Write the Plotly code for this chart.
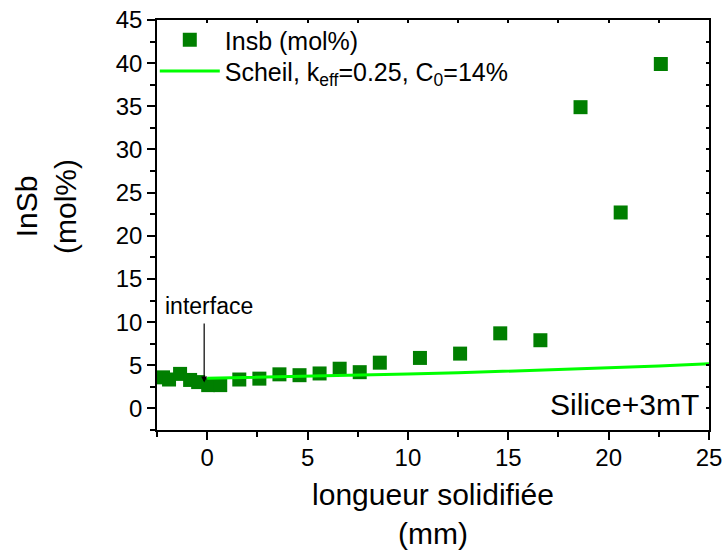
import plotly.graph_objects as go

# Data
pos_mm = [-2.2, -1.9, -1.35, -0.85, -0.45, 0.05, 0.65, 1.6, 2.6, 3.6, 4.6,
          5.6, 6.6, 7.6, 8.6, 10.6, 12.6, 14.6, 16.6, 18.6, 20.6, 22.6]
insb_mol = [3.6, 3.35, 4.0, 3.3, 3.05, 2.7, 2.7, 3.35, 3.45, 3.95, 3.85,
            4.05, 4.6, 4.2, 5.3, 5.85, 6.35, 8.7, 7.9, 34.9, 22.7, 39.9]

scheil_x = [0, 2.5, 5, 7.5, 10, 12.5, 15, 17.5, 20, 22.5, 25]
scheil_y = [3.5, 3.6, 3.72, 3.85, 3.98, 4.12, 4.3, 4.48, 4.7, 4.92, 5.18]

x_ticks = [0, 5, 10, 15, 20, 25]
y_ticks = [0, 5, 10, 15, 20, 25, 30, 35, 40, 45]

FONT = "Liberation Sans, Arial, sans-serif"

fig = go.Figure()
fig.add_trace(go.Scatter(
    x=pos_mm, y=insb_mol, mode="markers", name="Insb (mol%)",
    marker=dict(symbol="square", size=14, color="#007F00",
                line=dict(width=0)),
    legend="legend",
))
fig.add_trace(go.Scatter(
    x=scheil_x, y=scheil_y, mode="lines",
    name="Scheil, k<sub>eff</sub>=0.25, C<sub>0</sub>=14%",
    line=dict(color="#00FF00", width=3),
    legend="legend2",
))
# empty trace to anchor mirror axes
fig.add_trace(go.Scatter(x=[], y=[], xaxis="x2", yaxis="y2", showlegend=False,
                         hoverinfo="skip"))

axis_common = dict(
    showgrid=False, zeroline=False, showline=True, linecolor="black",
    linewidth=1.5, ticks="outside", tickcolor="black", tickwidth=1.5,
    ticklen=8, tickfont=dict(family=FONT, size=24, color="black"),
    automargin=False,
)
mirror_common = dict(
    showticklabels=False, ticks="inside", ticklen=3, tickwidth=1.5,
    tickcolor="black", showline=True, linecolor="black", linewidth=1.5,
    showgrid=False, zeroline=False, automargin=False,
    minor=dict(dtick=2.5, ticks="inside", ticklen=3, tickwidth=1.5,
               tickcolor="black"),
)

legend_common = dict(
    xanchor="left", yanchor="middle",
    bgcolor="rgba(0,0,0,0)", borderwidth=0,
    font=dict(family=FONT, size=25, color="black"),
    itemwidth=60,
)

fig.update_layout(
    width=723, height=554,
    margin=dict(l=157, r=14, t=20, b=124),
    paper_bgcolor="white", plot_bgcolor="white",
    font=dict(family=FONT, color="black"),
    xaxis=dict(
        **axis_common, range=[-2.5, 25], tickvals=x_ticks,
        ticklabelstandoff=-3,
        minor=dict(dtick=2.5, ticks="outside", ticklen=5, tickwidth=1.5,
                   tickcolor="black"),
        title=dict(text="longueur solidifiée<br>(mm)",
                   font=dict(family=FONT, size=30), standoff=14),
    ),
    yaxis=dict(
        **axis_common, range=[-2.5, 45], tickvals=y_ticks,
        minor=dict(dtick=2.5, ticks="outside", ticklen=5, tickwidth=1.5,
                   tickcolor="black"),
    ),
    xaxis2=dict(**mirror_common, overlaying="x", side="top", matches="x",
                range=[-2.5, 25], tickvals=x_ticks),
    yaxis2=dict(**mirror_common, overlaying="y", side="right", matches="y",
                range=[-2.5, 45], tickvals=y_ticks),
    legend=dict(**legend_common, x=-0.004, y=0.951),
    legend2=dict(**legend_common, x=-0.004, y=0.875),
    showlegend=True,
)

# y-axis title (two lines, rotated)
fig.add_annotation(
    x=-0.201, y=0.544, xref="paper", yref="paper", xanchor="center",
    yanchor="middle", textangle=-90, text="InSb<br>(mol%)", showarrow=False,
    font=dict(family=FONT, size=30, color="black"),
)
fig.add_annotation(
    x=-0.15, y=3.0, ax=-0.15, ay=10.0, xref="x", yref="y",
    axref="x", ayref="y", showarrow=True, arrowhead=2, arrowsize=1,
    arrowwidth=1.2, arrowcolor="black", text="",
)
fig.add_annotation(
    x=0.1, y=11.9, xref="x", yref="y", text="interface", showarrow=False,
    font=dict(family=FONT, size=23, color="black"),
)
fig.add_annotation(
    x=0.985, y=0.061, xref="paper", yref="paper", xanchor="right",
    yanchor="middle", text="Silice+3mT", showarrow=False,
    font=dict(family=FONT, size=30, color="black"),
)

fig.write_html("out.html", config={"displayModeBar": False},
               post_script="document.body.style.margin='0';")
